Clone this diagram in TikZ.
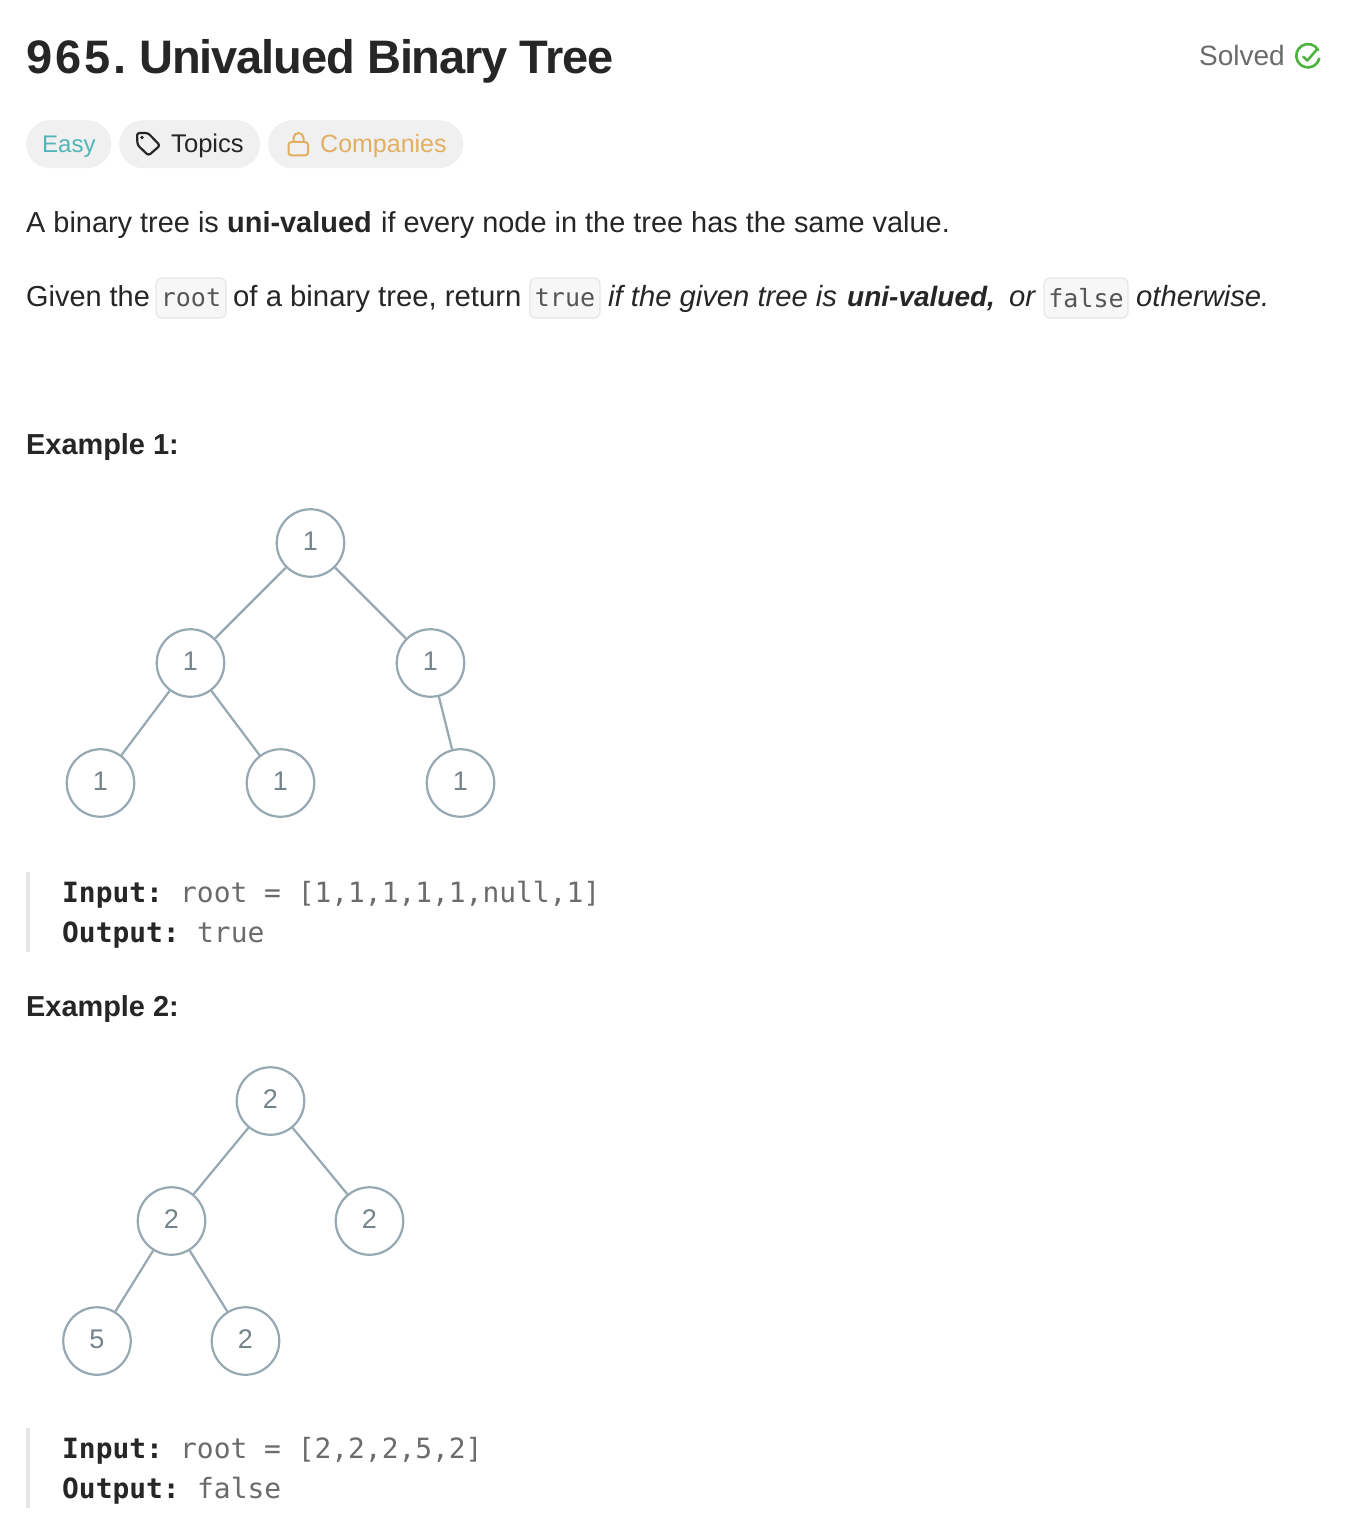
\documentclass[tikz,border=0pt]{standalone}
\usepackage{fontspec}
\setmainfont{Liberation Sans}
\setmonofont{DejaVu Sans Mono}
\definecolor{ink}{HTML}{262626}
\definecolor{pill}{HTML}{F0F0F0}
\definecolor{easy}{HTML}{52B5B7}
\definecolor{gold}{HTML}{E2AE60}
\definecolor{treeline}{HTML}{96A8B1}
\definecolor{treetext}{HTML}{75838A}
\definecolor{chipfill}{HTML}{F7F7F7}
\definecolor{chipline}{HTML}{E6E6E6}
\definecolor{greytext}{HTML}{6B6B6B}
\definecolor{solved}{HTML}{4CB33F}
\newcommand{\bodysize}{\fontsize{28.9}{34}\selectfont}
\newcommand{\codesize}{\fontsize{27.9}{32}\selectfont}
\newcommand{\pillsize}{\fontsize{25}{30}\selectfont}
\begin{document}
\begin{tikzpicture}[x=1pt,y=-1pt,
	txt/.style={anchor=base west,inner sep=0pt,text=ink,font=\bodysize},
	heading/.style={txt,font=\bodysize\bfseries},
	pillbox/.style={draw=none,fill=pill,rounded corners=24pt,anchor=north west,minimum height=48pt,inner sep=0pt},
	pilltext/.style={txt,font=\pillsize},
	chip/.style={rectangle,draw=chipline,fill=chipfill,line width=1.2pt,rounded corners=6pt,minimum height=40pt,inner sep=0pt,text=greytext!80!black,font=\ttfamily\fontsize{25}{30}\selectfont},
	code/.style={anchor=base west,inner sep=0pt,text=greytext,font=\ttfamily\codesize},
	codekey/.style={code,text=ink,font=\ttfamily\bfseries\codesize},
	treenode/.style={circle,draw=treeline,line width=2.2pt,fill=white,minimum size=67.5pt,inner sep=0pt,text=treetext,text height=19pt,text depth=4pt,font=\fontsize{27}{32}\selectfont},
	treeedge/.style={draw=treeline,line width=2.2pt}]
	\useasboundingbox (0,0) rectangle (1346,1530);
	\fill[white] (0,0) rectangle (1346,1530);
	% header
	\node[txt,font=\fontsize{47}{56}\selectfont\bfseries\addfontfeature{LetterSpace=6}] (num) at (26,74) {965.};
	\node[txt,font=\fontsize{47}{56}\selectfont\bfseries\addfontfeature{LetterSpace=-2.3}] (title) at (139,74) {Univalued Binary Tree};
	\node[txt,text=greytext,font=\fontsize{28}{32}\selectfont] (solved) at (1199,66) {Solved};
	\draw[solved,line width=2.6pt,line cap=round] (1318.1,49.9) arc (-30:-345:11.7);
	\draw[solved,line width=2.6pt,line cap=round,line join=round] (1303.3,56.7) -- (1307.3,60.5) -- (1317.3,49);
	% pills
	\node[pillbox,minimum width=85pt] (easy) at (26,120) {};
	\node[pillbox,minimum width=141pt] (topics) at (119,120) {};
	\node[pillbox,minimum width=195pt] (companies) at (268,120) {};
	\node[pilltext,text=easy,font=\fontsize{24}{30}\selectfont] (easytxt) at (42,153) {Easy};
	\node[pilltext,text=black!85,font=\fontsize{25.6}{30}\selectfont] (topicstxt) at (171,153) {Topics};
	\node[pilltext,text=gold] (companiestxt) at (320,153) {Companies};
	\draw[black!85,line width=2.2pt,line join=round,rounded corners=2.5pt] (137,133) -- (148,133) -- (160,145.5) -- (148.5,155.5) -- (137.5,145) -- cycle;
	\fill[black!85] (142,137.5) circle (1.8);
	\draw[gold,line width=2pt,rounded corners=3pt] (288.5,142) rectangle (308,155.5);
	\draw[gold,line width=2pt] (293.5,142) -- (293.5,138) arc (180:360:5) -- (303.5,142);
	% description
	\node[txt] (d1) at (26,232.5) {A binary tree is};
	\node[heading] (d2) at (227,232.5) {uni-valued};
	\node[txt] (d3) at (381,232.5) {if every node in the tree has the same value.};
	\node[txt] (g1) at (26,306) {Given the};
	\node[chip,minimum width=70pt] (root) at (191,298) {root};
	\node[txt,font=\fontsize{29.3}{34}\selectfont] (g2) at (233,306) {of a binary tree, return};
	\node[chip,minimum width=70pt] (true) at (565,298) {true};
	\node[txt,font=\fontsize{29.2}{34}\selectfont\itshape] (g3) at (608,306) {if the given tree is};
	\node[txt,font=\fontsize{28}{34}\selectfont\itshape\bfseries] (g4) at (847,306) {uni-valued,};
	\node[txt,font=\fontsize{29.2}{34}\selectfont\itshape] (g5) at (1009,306) {or};
	\node[chip,minimum width=84pt] (false) at (1086,298) {false};
	\node[txt,font=\fontsize{29.2}{34}\selectfont\itshape] (g6) at (1136,306) {otherwise.};
	% example 1
	\node[heading] (ex1) at (26,454) {Example 1:};
	\node[treenode] (A) at (310.5,543) {1};
	\node[treenode] (B) at (190.5,663) {1};
	\node[treenode] (C) at (430.5,663) {1};
	\node[treenode] (D) at (100.5,783) {1};
	\node[treenode] (E) at (280.5,783) {1};
	\node[treenode] (F) at (460.5,783) {1};
	\draw[treeedge] (A) -- (B);
	\draw[treeedge] (A) -- (C);
	\draw[treeedge] (B) -- (D);
	\draw[treeedge] (B) -- (E);
	\draw[treeedge] (C) -- (F);
	\fill[chipline] (26,872) rectangle (30,952);
	\node[codekey] (in1) at (62,902) {Input:};
	\node[code] (val1) at (180,902) {root = [1,1,1,1,1,null,1]};
	\node[codekey] (out1) at (62,942) {Output:};
	\node[code] (res1) at (197,942) {true};
	% example 2
	\node[heading] (ex2) at (26,1016) {Example 2:};
	\node[treenode] (P) at (270.5,1101) {2};
	\node[treenode] (Q) at (171.5,1221) {2};
	\node[treenode] (R) at (369.5,1221) {2};
	\node[treenode] (S) at (97,1341) {5};
	\node[treenode] (T) at (245.5,1341) {2};
	\draw[treeedge] (P) -- (Q);
	\draw[treeedge] (P) -- (R);
	\draw[treeedge] (Q) -- (S);
	\draw[treeedge] (Q) -- (T);
	\fill[chipline] (26,1428) rectangle (30,1508);
	\node[codekey] (in2) at (62,1458) {Input:};
	\node[code] (val2) at (180,1458) {root = [2,2,2,5,2]};
	\node[codekey] (out2) at (62,1498) {Output:};
	\node[code] (res2) at (197,1498) {false};
\end{tikzpicture}
\end{document}
